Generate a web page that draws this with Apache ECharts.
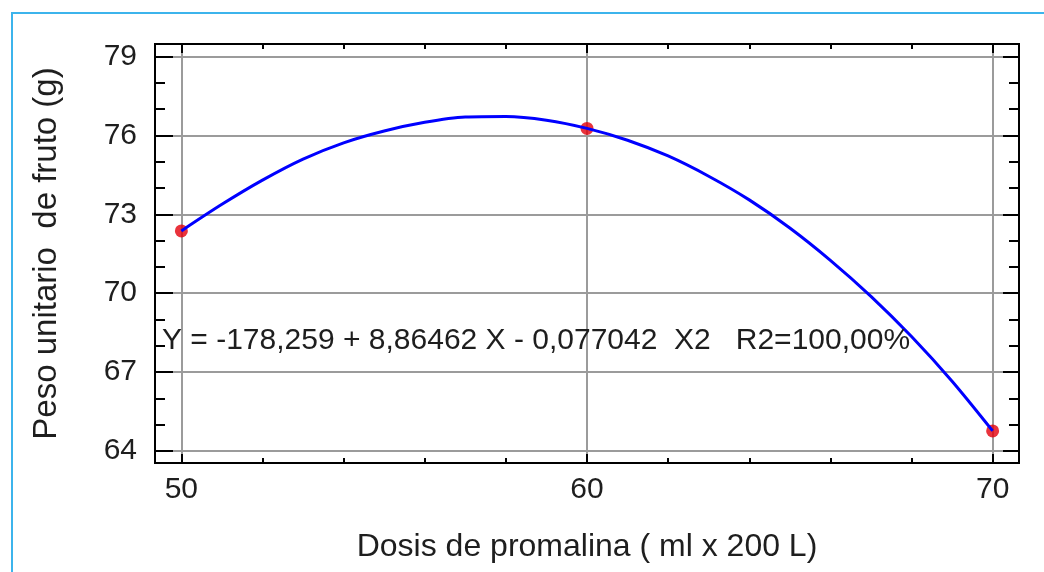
<!DOCTYPE html>
<html>
<head>
<meta charset="utf-8">
<script src="https://cdn.jsdelivr.net/npm/echarts@6/dist/echarts.min.js"></script>
<style>
html,body{margin:0;padding:0;background:#fff;}
#chart{width:1044px;height:572px;}
</style>
</head>
<body>
<div id="chart"></div>
<script>
// ---- data ----
const xTitle = 'Dosis de promalina ( ml x 200 L)';
const yTitle = 'Peso unitario  de fruto (g)';
const equationText = 'Y = -178,259 + 8,86462 X - 0,077042  X2   R2=100,00%';

const xMajorTicks = [50, 60, 70];
const xMinorTicks = [52, 54, 56, 58, 62, 64, 66, 68];
const yMajorTicks = [64, 67, 70, 73, 76, 79];
const yMinorTicks = [65, 66, 68, 69, 71, 72, 74, 75, 77, 78];

const obsDose = [50, 60, 70];
const obsWeight = [72.37, 76.27, 64.76];

const fitDose = [50, 51, 52, 53, 54, 55, 56, 57, 58, 59, 60, 61, 62, 63, 64, 65, 66, 67, 68, 69, 70];
const fitWeight = [72.37, 73.38, 74.30, 75.10, 75.72, 76.17, 76.50, 76.70, 76.72, 76.58, 76.27, 75.82, 75.22, 74.45, 73.55, 72.48, 71.25, 69.88, 68.35, 66.65, 64.76];

const xMin = 49.35, xMax = 70.65;
const yMin = 63.54, yMax = 79.48;

// ---- chart ----
const FONT = '"Liberation Sans", Arial, sans-serif';
const TXT = '#1e1e1e';
const GRIDC = '#9b9b9b';

function xAxisDef(pos, ticks, len, opts) {
  return Object.assign({
    type: 'value', position: pos, min: xMin, max: xMax,
    axisLine: { show: false },
    axisTick: { show: true, inside: true, length: len, customValues: ticks,
                lineStyle: { color: '#000', width: 2 } },
    axisLabel: { show: false },
    splitLine: { show: false }
  }, opts || {});
}
function yAxisDef(pos, ticks, len, opts) {
  return Object.assign({
    type: 'value', position: pos, min: yMin, max: yMax,
    axisLine: { show: false },
    axisTick: { show: true, inside: true, length: len, customValues: ticks,
                lineStyle: { color: '#000', width: 2 } },
    axisLabel: { show: false },
    splitLine: { show: false }
  }, opts || {});
}

const chart = echarts.init(document.getElementById('chart'), null, { renderer: 'canvas' });
chart.setOption({
  backgroundColor: '#fff',
  animation: false,
  grid: {
    left: 155, top: 44, right: 25, bottom: 109,
    show: true, borderColor: '#000', borderWidth: 2, backgroundColor: 'transparent'
  },
  graphic: [
    { type: 'rect', shape: { x: 12, y: 13, width: 1200, height: 800 },
      style: { fill: 'none', stroke: '#3cb4ec', lineWidth: 2 }, z: -10, silent: true },
    { type: 'text', left: 162, top: 326, z: 100,
      style: { text: equationText, font: '30px ' + FONT, fill: TXT } }
  ],
  xAxis: [
    xAxisDef('bottom', xMajorTicks, 9, {
      name: xTitle, nameLocation: 'middle', nameGap: 68,
      nameTextStyle: { fontSize: 32, fontFamily: FONT, color: TXT },
      axisLabel: { show: true, customValues: xMajorTicks, margin: 12,
                   fontSize: 30, fontFamily: FONT, color: TXT },
      splitLine: { show: true, lineStyle: { color: GRIDC, width: 2 } }
    }),
    xAxisDef('bottom', xMinorTicks, 5),
    xAxisDef('top', xMajorTicks, 9),
    xAxisDef('top', xMinorTicks, 5)
  ],
  yAxis: [
    yAxisDef('left', yMajorTicks, 18, {
      name: yTitle, nameLocation: 'middle', nameGap: 92, nameRotate: 90,
      nameTextStyle: { fontSize: 33, fontFamily: FONT, color: TXT },
      axisLabel: { show: true, customValues: yMajorTicks, margin: 18,
                   fontSize: 30, fontFamily: FONT, color: TXT },
      splitLine: { show: true, lineStyle: { color: GRIDC, width: 2 } }
    }),
    yAxisDef('left', yMinorTicks, 10),
    yAxisDef('right', yMajorTicks, 16),
    yAxisDef('right', yMinorTicks, 10)
  ],
  series: [
    {
      type: 'scatter', xAxisIndex: 0, yAxisIndex: 0, z: 2,
      symbol: 'circle', symbolSize: 13,
      itemStyle: { color: '#e3000b' },
      data: obsDose.map((d, i) => [d, obsWeight[i]])
    },
    {
      type: 'line', xAxisIndex: 0, yAxisIndex: 0, z: 3,
      smooth: 0.3, showSymbol: false,
      lineStyle: { color: '#0000ff', width: 3 },
      data: fitDose.map((d, i) => [d, fitWeight[i]])
    }
  ]
});
</script>
</body>
</html>
